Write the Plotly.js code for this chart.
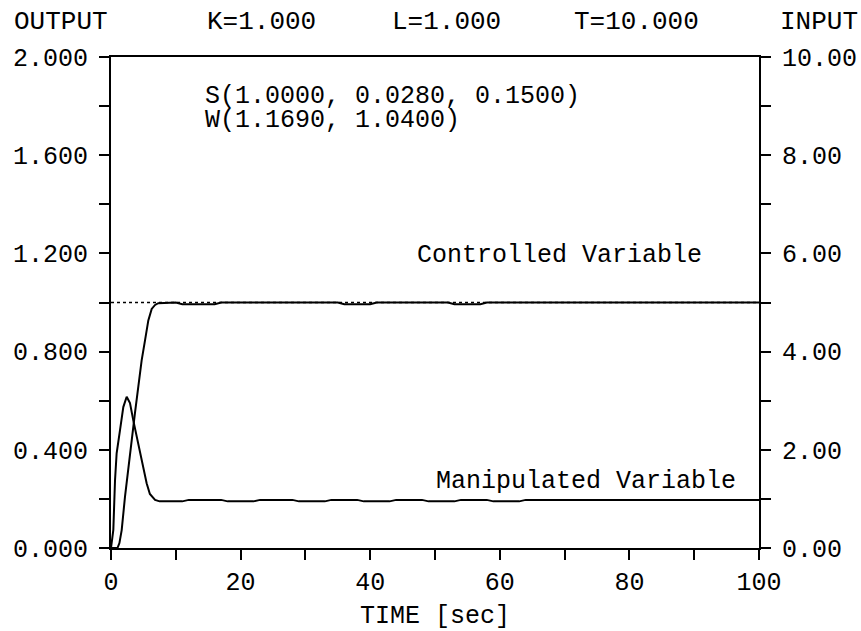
<!DOCTYPE html>
<html>
<head>
<meta charset="utf-8">
<script src="https://cdn.plot.ly/plotly-3.0.1.min.js"></script>
<style>html,body{margin:0;padding:0;background:#fff;}#chart{width:861px;height:631px;}</style>
</head>
<body>
<div id="chart"></div>
<script>
// Time axis [sec]
const timeControlled = [0, 1.0, 1.3, 1.65, 2.16, 2.67, 3.19, 3.70, 4.21, 4.73, 5.25, 5.76, 6.28, 6.8, 7.3, 10, 11, 16, 17, 35, 36, 40, 41, 52, 53, 57, 58, 100];
// Controlled variable (OUTPUT scale)
const controlled = [0, 0, 0.02, 0.073, 0.209, 0.33, 0.44, 0.55, 0.656, 0.764, 0.846, 0.927, 0.974, 0.99, 0.997, 1.0, 0.993, 0.993, 1.0, 1.0, 0.993, 0.993, 1.0, 1.0, 0.993, 0.993, 1.0, 1.0];

const timeSetpoint = [0, 100];
const setpoint = [1.0, 1.0];

const timeManipulated = [0, 0.2, 0.36, 0.62, 0.87, 1.39, 1.9, 2.42, 2.93, 3.44, 3.96, 4.48, 4.98, 5.5, 6.0, 6.8, 7.5, 11, 12, 17, 18, 22, 23, 28, 29, 33, 34, 38, 39, 43, 44, 48, 49, 53, 54, 58, 59, 63, 64, 100];
// Manipulated variable (INPUT scale)
const manipulated = [0, 0.2, 0.37, 1.38, 1.93, 2.4, 2.87, 3.08, 2.95, 2.6, 2.26, 1.93, 1.59, 1.32, 1.1, 0.98, 0.95, 0.95, 0.98, 0.98, 0.95, 0.95, 0.98, 0.98, 0.95, 0.95, 0.98, 0.98, 0.95, 0.95, 0.98, 0.98, 0.95, 0.95, 0.98, 0.98, 0.95, 0.95, 0.98, 0.98];

const xTicks = [0, 20, 40, 60, 80, 100];
const yTicks = [0, 0.4, 0.8, 1.2, 1.6, 2.0];
const yTickText = ["0.000", "0.400", "0.800", "1.200", "1.600", "2.000"];
const y2Ticks = [0, 2, 4, 6, 8, 10];
const y2TickText = ["0.00", "2.00", "4.00", "6.00", "8.00", "10.00"];

const headerTexts = ["OUTPUT", "K=1.000", "L=1.000", "T=10.000", "INPUT"];
const paramTexts = ["S(1.0000, 0.0280, 0.1500)", "W(1.1690, 1.0400)"];
const curveLabels = ["Controlled Variable", "Manipulated Variable"];
const xTitle = "TIME [sec]";

const FONT = "Liberation Mono, DejaVu Sans Mono, monospace";
const fnt = {family: FONT, size: 25, color: "#000"};
const hfnt = {family: FONT, size: 26, color: "#000"};

const L = 111, R = 759, T = 57, B = 548, W = 861, H = 631;
const px = v => (v - L) / (R - L);
const py = v => (B - v) / (B - T);

const traces = [
  {x: timeSetpoint, y: setpoint, mode: "lines", line: {color: "#000", width: 1.5, dash: "3px,3px"}, hoverinfo: "skip", showlegend: false},
  {x: timeControlled, y: controlled, mode: "lines", line: {color: "#000", width: 2}, showlegend: false},
  {x: timeManipulated, y: manipulated, yaxis: "y2", mode: "lines", line: {color: "#000", width: 2}, showlegend: false}
];

const axBase = {showgrid: false, zeroline: false, showline: true, linecolor: "#000", linewidth: 2, ticks: "outside", ticklen: 10, tickwidth: 2, tickcolor: "#000", tickfont: fnt};

const layout = {
  width: W, height: H,
  margin: {l: L, r: W - R, t: T, b: H - B, pad: 0},
  paper_bgcolor: "#fff", plot_bgcolor: "#fff",
  showlegend: false,
  xaxis: Object.assign({}, axBase, {range: [0, 100], tickvals: xTicks, ticktext: xTicks.map(String), mirror: true,
    minor: {tickvals: [10, 30, 50, 70, 90], ticks: "outside", ticklen: 10, tickwidth: 2, tickcolor: "#000"},
    title: {text: xTitle, font: fnt, standoff: 12}}),
  yaxis: Object.assign({}, axBase, {range: [0, 2], tickvals: yTicks, ticktext: yTickText, ticklabelstandoff: 6,
    minor: {tickvals: [0.2, 0.6, 1.0, 1.4, 1.8], ticks: "outside", ticklen: 10, tickwidth: 2, tickcolor: "#000"}}),
  yaxis2: Object.assign({}, axBase, {range: [0, 10], overlaying: "y", side: "right", tickvals: y2Ticks, ticktext: y2TickText, ticklabelstandoff: 6,
    minor: {tickvals: [1, 3, 5, 7, 9], ticks: "outside", ticklen: 10, tickwidth: 2, tickcolor: "#000"}}),
  annotations: [
    {text: headerTexts[0], xref: "paper", yref: "paper", x: px(12), y: py(22), xanchor: "left", yanchor: "middle", showarrow: false, font: hfnt},
    {text: headerTexts[1], xref: "paper", yref: "paper", x: px(205), y: py(22), xanchor: "left", yanchor: "middle", showarrow: false, font: hfnt},
    {text: headerTexts[2], xref: "paper", yref: "paper", x: px(390), y: py(22), xanchor: "left", yanchor: "middle", showarrow: false, font: hfnt},
    {text: headerTexts[3], xref: "paper", yref: "paper", x: px(572), y: py(22), xanchor: "left", yanchor: "middle", showarrow: false, font: hfnt},
    {text: headerTexts[4], xref: "paper", yref: "paper", x: px(860), y: py(22), xanchor: "right", yanchor: "middle", showarrow: false, font: hfnt},
    {text: paramTexts[0], xref: "paper", yref: "paper", x: px(203), y: py(97), xanchor: "left", yanchor: "middle", showarrow: false, font: fnt},
    {text: paramTexts[1], xref: "paper", yref: "paper", x: px(203), y: py(120), xanchor: "left", yanchor: "middle", showarrow: false, font: fnt},
    {text: curveLabels[0], xref: "x", yref: "y", x: 91.5, y: 1.19, xanchor: "right", yanchor: "middle", showarrow: false, font: fnt},
    {text: curveLabels[1], xref: "x", yref: "y", x: 96.8, y: 0.27, xanchor: "right", yanchor: "middle", showarrow: false, font: fnt}
  ]
};

Plotly.newPlot("chart", traces, layout, {staticPlot: true, displayModeBar: false});
</script>
</body>
</html>
